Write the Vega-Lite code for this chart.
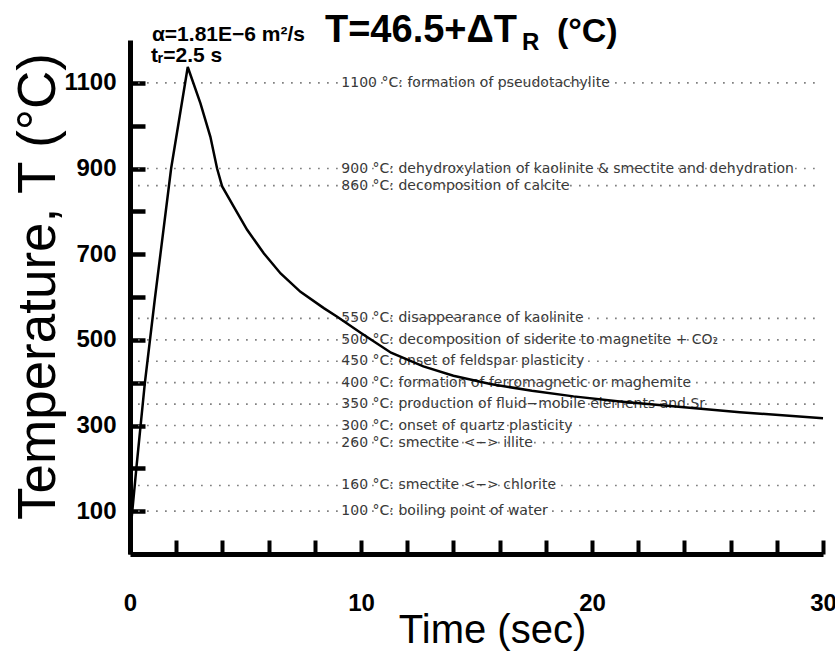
{
  "$schema": "https://vega.github.io/schema/vega-lite/v6.json",
  "width": 693,
  "height": 514,
  "autosize": {"type": "none"},
  "padding": {"left": 130, "top": 40, "right": 12, "bottom": 100},
  "background": "white",
  "config": {"view": {"stroke": null}},
  "datasets": {
    "curve": [
      {"t": 0, "T": 46.5}, {"t": 0.09, "T": 95}, {"t": 0.28, "T": 203}, {"t": 0.64, "T": 398},
      {"t": 1.07, "T": 593}, {"t": 1.78, "T": 900}, {"t": 2.5, "T": 1137}, {"t": 3.05, "T": 1052},
      {"t": 3.48, "T": 974}, {"t": 3.77, "T": 900}, {"t": 3.99, "T": 858}, {"t": 4.49, "T": 811},
      {"t": 5.07, "T": 757}, {"t": 5.79, "T": 702}, {"t": 6.52, "T": 655}, {"t": 7.38, "T": 612},
      {"t": 8.39, "T": 574}, {"t": 8.97, "T": 554}, {"t": 10.0, "T": 516}, {"t": 11.3, "T": 470},
      {"t": 12.7, "T": 438}, {"t": 14.0, "T": 416}, {"t": 15.6, "T": 397}, {"t": 17.4, "T": 381},
      {"t": 19.2, "T": 368}, {"t": 21.2, "T": 356}, {"t": 23.5, "T": 345}, {"t": 26.4, "T": 331},
      {"t": 30.0, "T": 317}
    ],
    "zones": [
      {"T": 1100, "label": "1100 °C: formation of pseudotachylite"},
      {"T": 900, "label": "900 °C: dehydroxylation of kaolinite & smectite and dehydration"},
      {"T": 860, "label": "860 °C: decomposition of calcite"},
      {"T": 550, "label": "550 °C: disappearance of kaolinite"},
      {"T": 500, "label": "500 °C: decomposition of siderite to magnetite + CO₂"},
      {"T": 450, "label": "450 °C: onset of feldspar plasticity"},
      {"T": 400, "label": "400 °C: formation of ferromagnetic or maghemite"},
      {"T": 350, "label": "350 °C: production of fluid−mobile elements and Sr"},
      {"T": 300, "label": "300 °C: onset of quartz plasticity"},
      {"T": 260, "label": "260 °C: smectite <−> illite"},
      {"T": 160, "label": "160 °C: smectite <−> chlorite"},
      {"T": 100, "label": "100 °C: boiling point of water"}
    ]
  },
  "layer": [
    {
      "data": {"name": "zones"},
      "mark": {"type": "rule", "color": "#777777", "strokeWidth": 1.6, "strokeDash": [1.6, 7.4]},
      "encoding": {
        "x": {"datum": 0.35, "type": "quantitative", "scale": {"domain": [0, 30], "nice": false, "zero": false}},
        "x2": {"datum": 29.9},
        "y": {"field": "T", "type": "quantitative", "scale": {"domain": [0, 1200], "nice": false, "zero": false}}
      }
    },
    {
      "data": {"name": "zones"},
      "mark": {"type": "text", "align": "left", "baseline": "middle", "font": "DejaVu Sans", "fontSize": 14, "color": "#3a3a3a"},
      "encoding": {
        "x": {"datum": 9.15, "type": "quantitative"},
        "y": {"field": "T", "type": "quantitative"},
        "text": {"field": "label"}
      }
    },
    {
      "data": {"name": "curve"},
      "mark": {"type": "line", "color": "black", "strokeWidth": 2.5, "clip": false},
      "encoding": {
        "x": {
          "field": "t", "type": "quantitative",
          "scale": {"domain": [0, 30], "nice": false, "zero": false},
          "axis": {
            "title": "Time (sec)",
            "format": "d",
            "values": [0,1,2,3,4,5,6,7,8,9,10,11,12,13,14,15,16,17,18,19,20,21,22,23,24,25,26,27,28,29,30],
            "labelExpr": "datum.value % 10 === 0 ? datum.label : ''",
            "grid": false,
            "domainColor": "black", "domainWidth": 5,
            "tickColor": "black", "tickWidth": 4, "tickSize": -14,
            "labelFont": "Liberation Sans", "labelFontWeight": "bold", "labelFontSize": 24,
            "labelColor": "black", "labelPadding": 51, "labelFlush": false, "labelOverlap": false,
            "titleFont": "Liberation Sans", "titleFontWeight": "normal", "titleFontSize": 40,
            "titleColor": "black", "titleBaseline": "alphabetic", "titleX": 362, "titleY": 88,
            "titleAnchor": "middle"
          }
        },
        "y": {
          "field": "T", "type": "quantitative",
          "scale": {"domain": [0, 1200], "nice": false, "zero": false},
          "axis": {
            "title": "Temperature, T (°C)",
            "format": "d",
            "values": [100,200,300,400,500,600,700,800,900,1000,1100],
            "labelExpr": "datum.value % 200 === 100 ? datum.label : ''",
            "grid": false,
            "domainColor": "black", "domainWidth": 5,
            "tickColor": "black", "tickWidth": 4.5, "tickSize": -15,
            "labelFont": "Liberation Sans", "labelFontWeight": "bold", "labelFontSize": 24,
            "labelColor": "black", "labelPadding": 29, "labelOverlap": false,
            "titleFont": "Liberation Sans", "titleFontWeight": "normal", "titleFontSize": 53,
            "titleColor": "black", "titleBaseline": "alphabetic", "titleX": -76, "titleY": 246,
            "titleAngle": 270
          }
        }
      }
    },
    {
      "data": {"values": [{}]},
      "mark": {"type": "text", "align": "left", "baseline": "alphabetic", "font": "Liberation Sans", "fontWeight": "bold", "fontSize": 38, "color": "black", "clip": false},
      "encoding": {
        "x": {"datum": 8.44, "type": "quantitative"},
        "y": {"datum": 1195, "type": "quantitative"},
        "text": {"value": "T=46.5+ΔT"}
      }
    },
    {
      "data": {"values": [{}]},
      "mark": {"type": "text", "align": "left", "baseline": "alphabetic", "font": "Liberation Sans", "fontWeight": "bold", "fontSize": 24, "color": "black", "clip": false},
      "encoding": {
        "x": {"datum": 16.97, "type": "quantitative"},
        "y": {"datum": 1177, "type": "quantitative"},
        "text": {"value": "R"}
      }
    },
    {
      "data": {"values": [{}]},
      "mark": {"type": "text", "align": "left", "baseline": "alphabetic", "font": "Liberation Sans", "fontWeight": "bold", "fontSize": 34, "color": "black", "clip": false},
      "encoding": {
        "x": {"datum": 18.48, "type": "quantitative"},
        "y": {"datum": 1195, "type": "quantitative"},
        "text": {"value": "(°C)"}
      }
    },
    {
      "data": {"values": [{}]},
      "mark": {"type": "text", "align": "left", "baseline": "alphabetic", "font": "Liberation Sans", "fontWeight": "bold", "fontSize": 21, "color": "black", "clip": false},
      "encoding": {
        "x": {"datum": 0.95, "type": "quantitative"},
        "y": {"datum": 1198, "type": "quantitative"},
        "text": {"value": "α=1.81E−6 m²/s"}
      }
    },
    {
      "data": {"values": [{}]},
      "mark": {"type": "text", "align": "left", "baseline": "alphabetic", "font": "Liberation Sans", "fontWeight": "bold", "fontSize": 21, "color": "black", "clip": false},
      "encoding": {
        "x": {"datum": 0.91, "type": "quantitative"},
        "y": {"datum": 1149, "type": "quantitative"},
        "text": {"value": "tᵣ=2.5 s"}
      }
    }
  ]
}
